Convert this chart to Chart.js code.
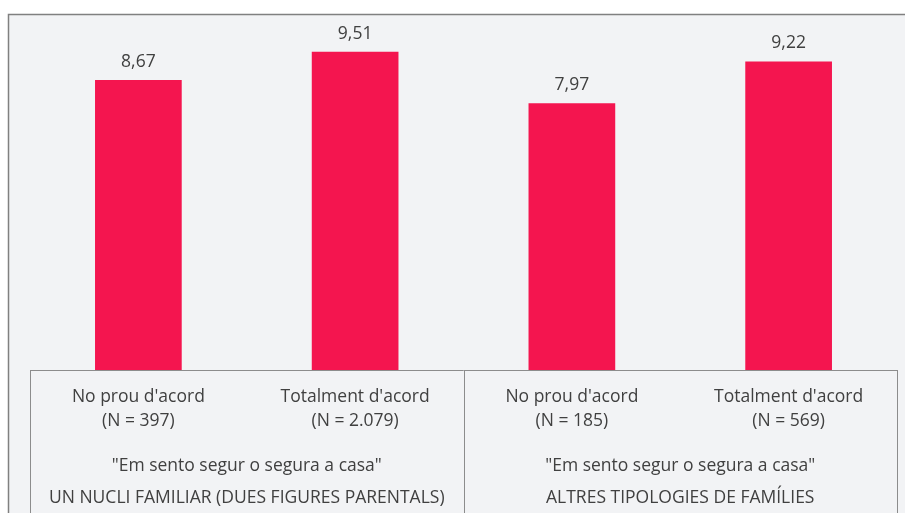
<!DOCTYPE html>
<html lang="ca">
<head>
    <meta charset="UTF-8">
    <title>Em sento segur o segura a casa</title>
    <style>
        html, body { margin: 0; padding: 0; background: #ffffff; }
        canvas { display: block; }
    </style>
</head>
<body>
    <canvas id="barChart" width="905" height="513"></canvas>
    <script src="https://cdn.jsdelivr.net/npm/chart.js"></script>
    <script>
        // data
        const categories = ["No prou d'acord", "Totalment d'acord", "No prou d'acord", "Totalment d'acord"];
        const sampleSizes = ['(N = 397)', '(N = 2.079)', '(N = 185)', '(N = 569)'];
        const values = [8.67, 9.51, 7.97, 9.22];
        const questionLabel = '"Em sento segur o segura a casa"';
        const groups = ['UN NUCLI FAMILIAR (DUES FIGURES PARENTALS)', 'ALTRES TIPOLOGIES DE FAMÍLIES'];
        const groupSize = 2;

        const FONT = '"Open Sans", sans-serif';
        const FONT_SIZE = 17.5;
        const TEXT = '#404040';
        const LINE = '#8c8c8c';

        // background, outer frame
        const framePlugin = {
            id: 'frame',
            beforeDraw(chart) {
                const ctx = chart.ctx;
                ctx.save();
                ctx.fillStyle = '#ffffff';
                ctx.fillRect(0, 0, chart.width, chart.height);
                ctx.fillStyle = '#f2f3f5';
                ctx.fillRect(8, 14, chart.width - 8, chart.height - 14);
                ctx.strokeStyle = '#808080';
                ctx.lineWidth = 1.5;
                ctx.beginPath();
                ctx.moveTo(8.5, chart.height);
                ctx.lineTo(8.5, 14.5);
                ctx.lineTo(chart.width, 14.5);
                ctx.stroke();
                ctx.restore();
            }
        };

        // value labels above bars + grouped axis box
        const labelsPlugin = {
            id: 'labels',
            afterDatasetsDraw(chart) {
                const ctx = chart.ctx;
                ctx.save();
                ctx.font = FONT_SIZE + 'px ' + FONT;
                ctx.fillStyle = TEXT;
                ctx.textAlign = 'center';
                ctx.textBaseline = 'middle';
                chart.getDatasetMeta(0).data.forEach((bar, i) => {
                    ctx.fillText(values[i].toFixed(2).replace('.', ','), bar.x, bar.y - 18);
                });
                ctx.restore();
            },
            afterDraw(chart) {
                const ctx = chart.ctx;
                const area = chart.chartArea;
                const x = chart.scales.x;
                const bottom = chart.height;
                ctx.save();
                ctx.strokeStyle = LINE;
                ctx.lineWidth = 1;
                ctx.beginPath();
                ctx.moveTo(area.left, Math.round(area.bottom) + 0.5);
                ctx.lineTo(area.right, Math.round(area.bottom) + 0.5);
                const edges = [area.left];
                for (let g = 1; g < groups.length; g++) {
                    const a = x.getPixelForValue(g * groupSize - 1);
                    const b = x.getPixelForValue(g * groupSize);
                    edges.push((a + b) / 2);
                }
                edges.push(area.right);
                edges.forEach(e => {
                    ctx.moveTo(Math.round(e) + 0.5, area.bottom);
                    ctx.lineTo(Math.round(e) + 0.5, bottom);
                });
                ctx.stroke();

                ctx.font = FONT_SIZE + 'px ' + FONT;
                ctx.fillStyle = TEXT;
                ctx.textAlign = 'center';
                ctx.textBaseline = 'middle';
                groups.forEach((name, g) => {
                    const cx = (edges[g] + edges[g + 1]) / 2;
                    ctx.fillText(questionLabel, cx, area.bottom + 96);
                    ctx.fillText(name, cx, area.bottom + 128);
                });
                ctx.restore();
            }
        };

        new Chart(document.getElementById('barChart'), {
            type: 'bar',
            data: {
                labels: categories.map((c, i) => [c, sampleSizes[i]]),
                datasets: [{
                    data: values,
                    backgroundColor: '#f4154f',
                    borderWidth: 0,
                    barPercentage: 0.4,
                    categoryPercentage: 1
                }]
            },
            options: {
                responsive: false,
                animation: false,
                layout: { padding: { left: 30, right: 8, top: 14, bottom: 0 } },
                plugins: { legend: { display: false }, tooltip: { enabled: false } },
                scales: {
                    x: {
                        grid: { display: false, drawTicks: false },
                        border: { display: false },
                        ticks: {
                            color: TEXT,
                            font: { family: FONT, size: FONT_SIZE, lineHeight: 1.38 },
                            padding: 15,
                            maxRotation: 0,
                            autoSkip: false
                        },
                        afterFit(scale) { scale.height = 143; }
                    },
                    y: {
                        display: false,
                        min: 0,
                        max: 10.64
                    }
                }
            },
            plugins: [framePlugin, labelsPlugin]
        });
    </script>
</body>
</html>
